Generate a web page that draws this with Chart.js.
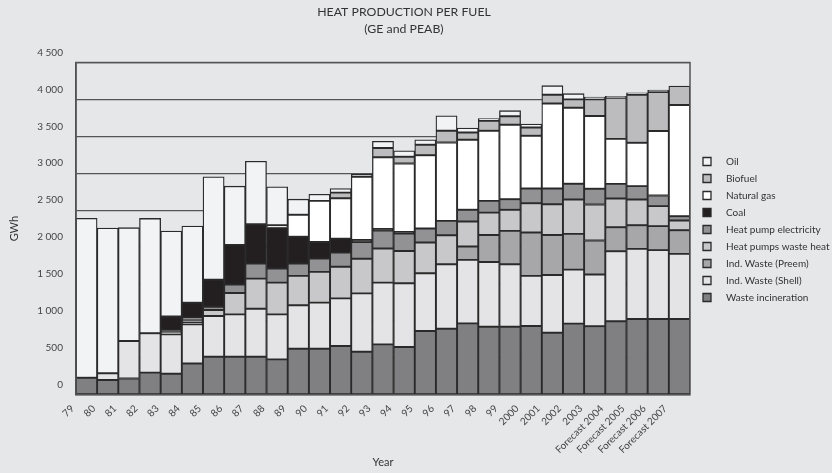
<!DOCTYPE html>
<html lang="en">
<head>
<meta charset="UTF-8">
<title>Heat production per fuel</title>
<script src="https://cdn.jsdelivr.net/npm/chart.js"></script>
<style>
  body { margin: 0; background: #e6e7e9; }
  canvas { display: block; background: #e6e7e9; }
</style>
</head>
<body>
<canvas id="heatChart" width="832" height="473"></canvas>
<script>
// years on the x axis
const years = ['79', '80', '81', '82', '83', '84', '85', '86', '87', '88', '89', '90', '91', '92',
  '93', '94', '95', '96', '97', '98', '99', '2000', '2001', '2002', '2003',
  'Forecast 2004', 'Forecast 2005', 'Forecast 2006', 'Forecast 2007'];

// GWh per fuel (bottom of the stack first)
const wasteIncineration = [230, 200, 220, 300, 285, 424, 515, 515, 515, 479, 624, 624, 660, 583,
  682, 647, 864, 895, 967, 922, 922, 932, 841, 963, 928, 995, 1027, 1027, 1027];
const indWasteShell = [0, 91, 507, 534, 533, 529, 552, 574, 651, 610, 587, 624, 645, 790,
  837, 862, 781, 872, 860, 877, 845, 678, 782, 732, 700, 949, 949, 932, 881];
const indWastePreem = [0, 0, 0, 0, 0, 30, 0, 0, 0, 0, 0, 0, 0, 0,
  0, 0, 0, 0, 180, 366, 453, 587, 542, 484, 461, 325, 321, 325, 321];
const heatPumpsWasteHeat = [0, 0, 0, 0, 35, 30, 80, 290, 407, 430, 399, 416, 430, 470,
  461, 439, 416, 393, 339, 302, 285, 397, 415, 465, 488, 388, 347, 271, 130];
const heatPumpElectricity = [0, 0, 0, 0, 20, 30, 45, 113, 203, 190, 167, 180, 190, 226,
  244, 235, 190, 195, 159, 159, 144, 199, 213, 213, 213, 199, 182, 144, 60];
const coal = [0, 0, 0, 0, 186, 203, 366, 538, 533, 556, 362, 226, 190, 27,
  20, 23, 0, 0, 0, 0, 0, 0, 0, 0, 0, 0, 0, 0, 0];
const naturalGas = [0, 0, 0, 0, 0, 0, 0, 0, 0, 31, 298, 556, 546, 858,
  972, 926, 994, 1062, 949, 949, 1009, 715, 1153, 1031, 986, 610, 587, 873, 1505];
const biofuel = [0, 0, 0, 0, 0, 0, 0, 0, 0, 0, 0, 0, 77, 0,
  126, 91, 141, 159, 99, 136, 113, 113, 118, 113, 225, 556, 651, 529, 258];
const oil = [2160, 1966, 1536, 1554, 1157, 1040, 1393, 795, 854, 521, 212, 90, 54, 31,
  91, 81, 68, 203, 58, 31, 77, 45, 122, 77, 32, 20, 27, 27, 0];

const FONT = 'Lato, "Open Sans", sans-serif';
const EDGE = '#2a2a2a';

function series(label, data, color) {
  return {
    label: label,
    data: data,
    backgroundColor: color,
    borderColor: EDGE,
    borderWidth: 1.3,
    borderSkipped: false,
    barPercentage: 1,
    categoryPercentage: 1
  };
}

// frame round the plot area
const frame = {
  id: 'frame',
  afterDatasetsDraw(chart) {
    const a = chart.chartArea, ctx = chart.ctx;
    ctx.save();
    ctx.strokeStyle = '#555';
    ctx.lineWidth = 1.5;
    ctx.strokeRect(a.left, a.top, a.right - a.left, a.bottom - a.top);
    ctx.restore();
  }
};

// small position tweaks: legend a bit right and up, titles a bit left
const nudge = {
  id: 'nudge',
  afterLayout(chart) {
    const lg = chart.legend;
    lg.left += 6;
    lg.right += 6;
    lg.top -= 7;
    lg.bottom -= 7;
    chart.boxes.forEach(b => {
      if (b.position === 'top') {
        b.left -= 12;
        b.right -= 12;
      }
    });
  }
};

new Chart(document.getElementById('heatChart'), {
  type: 'bar',
  data: {
    labels: years,
    datasets: [
      series('Waste incineration', wasteIncineration, '#808083'),
      series('Ind. Waste (Shell)', indWasteShell, '#e4e4e6'),
      series('Ind. Waste (Preem)', indWastePreem, '#a7a7aa'),
      series('Heat pumps waste heat', heatPumpsWasteHeat, '#c8c8ca'),
      series('Heat pump electricity', heatPumpElectricity, '#929295'),
      series('Coal', coal, '#231f20'),
      series('Natural gas', naturalGas, '#ffffff'),
      series('Biofuel', biofuel, '#bcbcbe'),
      series('Oil', oil, '#f2f3f5')
    ]
  },
  options: {
    responsive: false,
    animation: false,
    layout: { padding: 0 },
    plugins: {
      tooltip: { enabled: false },
      title: {
        display: true,
        text: 'HEAT PRODUCTION PER FUEL',
        color: '#333',
        font: { family: FONT, size: 12.3, weight: 'normal' },
        padding: { top: 5, bottom: 2 }
      },
      subtitle: {
        display: true,
        text: '(GE and PEAB)',
        color: '#333',
        font: { family: FONT, size: 12.3, weight: 'normal' },
        padding: { top: 0, bottom: 26 }
      },
      legend: {
        position: 'right',
        reverse: true,
        maxWidth: 142,
        labels: {
          boxWidth: 8,
          boxHeight: 8,
          padding: 7,
          color: '#333',
          font: { family: FONT, size: 10 },
          generateLabels(chart) {
            const items = Chart.defaults.plugins.legend.labels.generateLabels(chart);
            items.forEach(it => { it.text = '\u2002\u2002' + it.text; it.lineWidth = 1.3; });
            return items;
          }
        }
      }
    },
    scales: {
      x: {
        stacked: true,
        grid: { display: false },
        border: { display: false },
        ticks: {
          autoSkip: false,
          minRotation: 45,
          maxRotation: 45,
          labelOffset: -14,
          padding: 0,
          color: '#444',
          font: { family: FONT, size: 10 }
        },
        title: {
          display: true,
          text: 'Year',
          color: '#333',
          font: { family: FONT, size: 11 },
          padding: { top: 0, bottom: 4 }
        }
      },
      y: {
        stacked: true,
        min: 0,
        max: 4500,
        grid: { color: '#555', lineWidth: 1.2, drawTicks: false },
        border: { color: '#444', width: 1.5 },
        ticks: {
          stepSize: 500,
          labelOffset: -10,
          padding: 13,
          color: '#444',
          font: { family: FONT, size: 10 },
          callback: v => String(v).replace(/\B(?=(\d{3})+(?!\d))/g, ' ')
        },
        title: {
          display: true,
          text: 'GWh',
          color: '#333',
          font: { family: FONT, size: 11 },
          padding: { top: 8, bottom: 3 }
        }
      }
    }
  },
  plugins: [frame, nudge]
});
</script>
</body>
</html>
